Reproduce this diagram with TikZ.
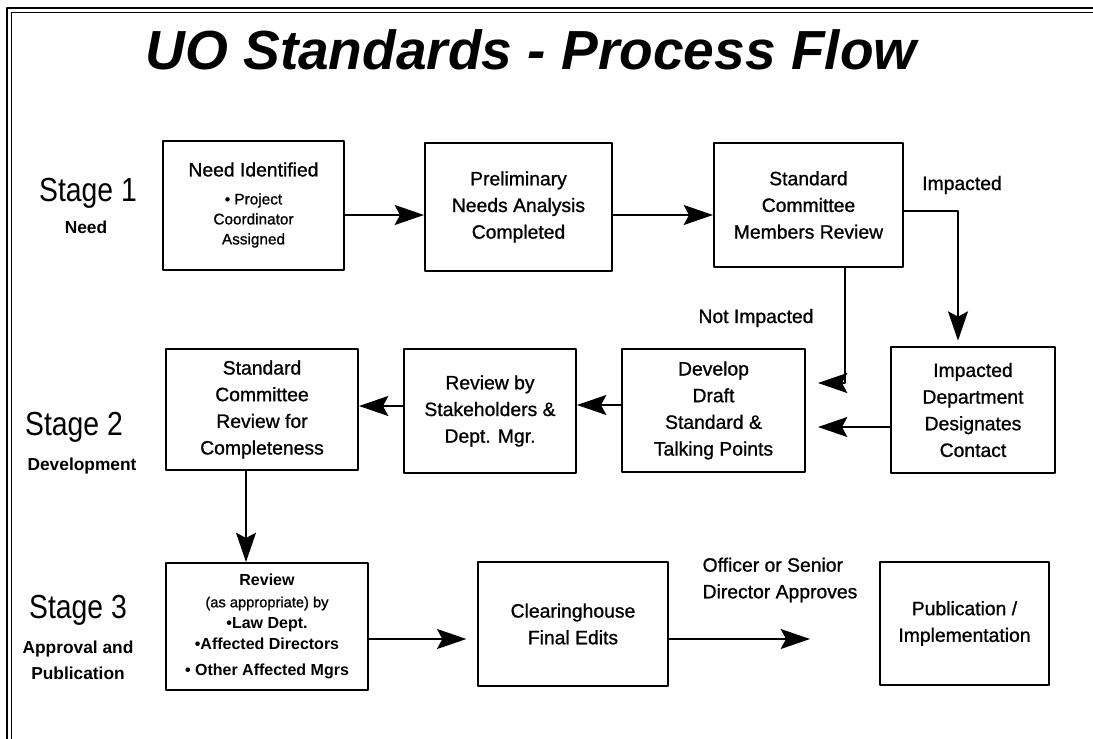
\documentclass[tikz,border=0pt]{standalone}
\usepackage{fontspec}
\setmainfont{Liberation Sans}
\newfontfamily\narrowfont[FakeStretch=0.85]{Liberation Sans}
\newfontfamily\medfont[FakeBold=1]{Liberation Sans}
\usetikzlibrary{arrows.meta}
\newcommand\boxfont{\medfont\fontsize{14.5}{20}\selectfont}
\newcommand\smallfont{\medfont\fontsize{11.5}{15}\selectfont}
\tikzset{
  procbox/.style 2 args={draw, line width=1.5pt, align=center, font=\boxfont,
    minimum width=#1*0.75pt, minimum height=#2*0.75pt, inner sep=2pt},
  stagelbl/.style={font=\narrowfont\fontsize{25}{30}\selectfont},
  sublbl/.style={font=\bfseries\fontsize{13}{19.5}\selectfont, align=center},
  flowlbl/.style={font=\boxfont, align=left}
}
\begin{document}
\begin{tikzpicture}[x=0.75pt, y=-0.75pt, line width=1.3pt, line join=round,
  >={Stealth[length=22pt,width=15pt,inset=4pt]}]
\useasboundingbox (0,0) rectangle (1093,739);
% double frame
\draw[line width=1.1pt] (7,739) -- (7,8) -- (1093,8);
\draw[line width=0.9pt] (11.5,739) -- (11.5,12.5) -- (1093,12.5);
\node[font=\fontsize{41.3}{48}\selectfont\bfseries\itshape] (title) at (531,50) {UO Standards - Process Flow};
% stages
\node[stagelbl] (s1) at (88,193) {Stage 1};
\node[sublbl] (s1sub) at (86,227) {Need};
\node[stagelbl] (s2) at (74,427) {Stage 2};
\node[sublbl] (s2sub) at (82,466) {Development};
\node[stagelbl] (s3) at (78,610) {Stage 3};
\node[sublbl] (s3sub) at (78,660) {Approval and\\Publication};
% row 1
\node[procbox={181}{129}, font=\smallfont] (need) at (253.5,205)
  {{\boxfont Need Identified}\\[6pt]\textbullet\ Project\\Coordinator\\Assigned};
\node[procbox={187}{128}] (prelim) at (518.5,207) {Preliminary\\Needs Analysis\\Completed};
\node[procbox={189}{124}] (members) at (808.5,205) {Standard\\Committee\\Members Review};
% row 2
\node[procbox={164}{126}] (dept) at (973,410) {Impacted\\Department\\Designates\\Contact};
\node[procbox={183}{123}] (draft) at (713.5,410.5) {Develop\\Draft\\Standard \&\\Talking Points};
\node[procbox={172}{124}] (stake) at (490,411) {Review by\\Stakeholders \&\\Dept. Mgr.};
\node[procbox={192}{121}] (complete) at (262,409.5) {Standard\\Committee\\Review for\\Completeness};
% row 3
\node[procbox={202}{127}, font=\fontsize{12}{16}\selectfont\bfseries] (legal) at (267,626.5)
  {Review\\{\mdseries\medfont\fontsize{11}{14}\selectfont (as appropriate) by}\\\textbullet Law Dept.\\\textbullet Affected Directors\\[3pt]\textbullet\ Other Affected Mgrs};
\node[procbox={190}{124}] (edits) at (573,624) {Clearinghouse\\Final Edits};
\node[procbox={169}{123}] (publish) at (964.5,623.5) {Publication /\\Implementation};
% labels
\node[flowlbl] (imp) at (962,185) {Impacted};
\node[flowlbl] (notimp) at (756,318) {Not Impacted};
\node[flowlbl] (approves) at (780,580) {Officer or Senior\\Director Approves};
% connectors
\draw[->] (need.east |- 0,215) -- (prelim.west |- 0,215);
\draw[->] (prelim.east |- 0,215) -- (members.west |- 0,215);
\draw[->, shorten >=4pt] (members.east |- 0,211) -| (dept.north -| 958,0);
\draw[->, shorten >=9pt] (members.south -| 845,0) |- (draft.east |- 0,383);
\draw[->, shorten >=9pt] (dept.west |- 0,427) -- (draft.east |- 0,427);
\draw[->] (draft.west |- 0,405) -- (stake.east |- 0,405);
\draw[->] (stake.west |- 0,406) -- (complete.east |- 0,406);
\draw[->] (complete.south -| 246,0) -- (legal.north -| 246,0);
\draw[->, shorten >=8pt] (legal.east |- 0,639) -- (edits.west |- 0,639);
\coordinate (approve) at (810,639);
\draw[->] (edits.east |- 0,639) -- (approve);
\end{tikzpicture}
\end{document}
